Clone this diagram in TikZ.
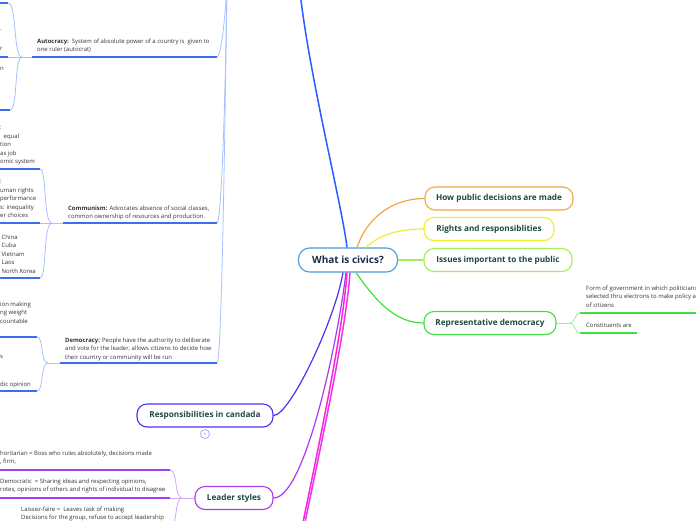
\documentclass[tikz,border=0pt]{standalone}
\usepackage{fontspec}
\setmainfont{Open Sans}
\definecolor{cborder}{HTML}{4F9BDA}
\definecolor{ctext}{HTML}{1B2B4D}
\definecolor{ttext}{HTML}{1D4A3E}
\definecolor{stext}{HTML}{333333}
\definecolor{bluetop}{HTML}{2B5CFF}
\definecolor{trunk}{HTML}{A8C0FF}
\definecolor{uline}{HTML}{3D6EF2}
\definecolor{corange}{HTML}{F7A541}
\definecolor{cyellow}{HTML}{EEEE33}
\definecolor{clgreen}{HTML}{A5EE55}
\definecolor{cgreen}{HTML}{3FE03F}
\definecolor{cglight}{HTML}{9BEE9B}
\definecolor{cresp}{HTML}{5230F0}
\definecolor{crespc}{HTML}{A090FF}
\definecolor{cleader}{HTML}{A63CF2}
\definecolor{cleaderl}{HTML}{D3A6FF}
\definecolor{cmag}{HTML}{FF22DD}
\definecolor{cpink}{HTML}{EE33EE}
\tikzset{
  topic/.style={draw, rounded corners=10pt, line width=1.1pt, fill=white, text=ttext,
    font=\fontsize{8.2}{10}\selectfont\bfseries, inner sep=0pt, minimum height=23pt},
  small/.style={text=stext, font=\fontsize{5.95}{8.5}\selectfont, inner sep=0pt, align=left, anchor=north west},
  uln/.style={line width=1.6pt, uline},
  trk/.style={line width=0.8pt, trunk},
  conn/.style={line width=1.2pt},
}
\begin{document}
\begin{tikzpicture}[x=1pt,y=-1pt]
\useasboundingbox (0,0) rectangle (696,520);
\clip (0,0) rectangle (696,520);
\fill[white] (0,0) rectangle (696,520);

% ---------- main nodes ----------
\node[draw=cborder, rounded corners=11pt, line width=1.1pt, fill=white, text=ctext,
  font=\fontsize{10}{12}\selectfont\bfseries, minimum width=99pt, minimum height=24pt, inner sep=0pt]
  (c) at (348,260) {What is civics?};
\node[topic, draw=corange, minimum width=148pt] (how) at (499,198.5) {How public decisions are made};
\node[topic, draw=cyellow, minimum width=130pt] (rights) at (489,229) {Rights and responsiblities};
\node[topic, draw=clgreen, minimum width=148pt] (issues) at (498,260) {Issues important to the public};
\node[topic, draw=cgreen, minimum width=132pt] (rep) at (490,323) {Representative democracy};
\node[topic, draw=cresp, minimum width=136pt] (resp) at (205,415.5) {Responsibilities in candada};
\node[topic, draw=cleader, minimum width=78pt] (leader) at (234,498) {Leader styles};
\node[circle, draw=crespc, line width=0.6pt, minimum size=9pt, inner sep=0pt, text=crespc,
  font=\fontsize{4.5}{4.5}\selectfont] (rc) at (205,434) {6};

% ---------- coordinates ----------
\coordinate (topend) at (300,-8);
\coordinate (pol) at (227,-15);
\coordinate (m1) at (301,532);
\coordinate (m2) at (303,532);
\coordinate (aue) at (217,57);  \coordinate (aus) at (32,57);  \coordinate (aj) at (22,57);
\coordinate (a1e) at (8,3);     \coordinate (a1s) at (-5,3);
\coordinate (a2e) at (8,57);    \coordinate (a2s) at (-5,57);
\coordinate (a3e) at (10,110);  \coordinate (a3s) at (-5,110);
\coordinate (cue) at (217,223); \coordinate (cus) at (63,223); \coordinate (cj) at (52,223);
\coordinate (c1e) at (40,169);  \coordinate (c1s) at (-5,169);
\coordinate (c2e) at (40,223);  \coordinate (c2s) at (-5,223);
\coordinate (c3e) at (40,278);  \coordinate (c3s) at (-5,278);
\coordinate (due) at (217,363); \coordinate (dus) at (60,363); \coordinate (dj) at (48,363);
\coordinate (d1e) at (37,337);  \coordinate (d1s) at (-5,337);
\coordinate (d3e) at (37,391);  \coordinate (d3s) at (-5,391);
\coordinate (lj) at (182,498);
\coordinate (l1e) at (170,470); \coordinate (l1s) at (-5,470);
\coordinate (l2e) at (170,498); \coordinate (l2s) at (-5,498);
\coordinate (l3e) at (170,527); \coordinate (l3s) at (-5,527);
\coordinate (rj) at (570,323);
\coordinate (r1e) at (580,313); \coordinate (r1s) at (705,313);
\coordinate (r2e) at (580,333); \coordinate (r2s) at (637,333);

% ---------- connectors from centre ----------
\draw[conn, corange] ([xshift=9pt]c.north) .. controls (368,215) and (395,198.5) .. (how.west);
\draw[conn, cyellow] ([xshift=18pt]c.north) .. controls (380,234) and (400,229) .. (rights.west);
\draw[line width=2pt, clgreen] (c.east) -- (issues.west);
\draw[conn, cgreen] ([xshift=8pt]c.south) .. controls (375,300) and (395,323) .. (rep.west);
\draw[line width=1.5pt, bluetop] ([xshift=-1pt]c.north) .. controls (342,205) and (310,80) .. (topend);
\draw[conn, cresp] ([xshift=-5pt]c.south) .. controls (335,320) and (290,415.5) .. (resp.east);
\draw[conn, cleader] ([xshift=-2pt]c.south) .. controls (338,340) and (305,498) .. (leader.east);
\draw[line width=1.5pt, cpink] ([xshift=2pt]c.south) .. controls (346,330) and (322,440) .. (m2);
\draw[line width=1.5pt, cmag] ([xshift=-1pt]c.south) .. controls (343,330) and (320,440) .. (m1);

% ---------- left trunk ----------
\draw[trk] (pol) .. controls (225,20) and (221,57) .. (aue);
\draw[trk] (pol) .. controls (225,120) and (221,223) .. (cue);
\draw[trk] (pol) .. controls (224,200) and (221,363) .. (due);
\draw[uln] (aus) -- (aue);
\draw[uln] (cus) -- (cue);
\draw[uln] (dus) -- (due);

% autocracy children
\draw[trk] (aj) -- (aus);
\draw[trk] (aj) .. controls (13,57) and (17,3) .. (a1e);
\draw[trk] (aj) -- (a2e);
\draw[trk] (aj) .. controls (14,57) and (18,110) .. (a3e);
\draw[uln] (a1e) -- (a1s);
\draw[uln] (a2e) -- (a2s);
\draw[uln] (a3e) -- (a3s);
% communism children
\draw[trk] (cj) -- (cus);
\draw[trk] (cj) .. controls (43,223) and (47,169) .. (c1e);
\draw[trk] (cj) -- (c2e);
\draw[trk] (cj) .. controls (43,223) and (47,278) .. (c3e);
\draw[uln] (c1e) -- (c1s);
\draw[uln] (c2e) -- (c2s);
\draw[uln] (c3e) -- (c3s);
% democracy children
\draw[trk] (dj) -- (dus);
\draw[trk] (dj) .. controls (40,363) and (44,337) .. (d1e);
\draw[trk] (dj) .. controls (40,363) and (44,391) .. (d3e);
\draw[uln] (d1e) -- (d1s);
\draw[uln] (d3e) -- (d3s);

% leader children
\draw[line width=0.8pt, cleaderl] (leader.west) -- (lj);
\draw[line width=0.8pt, cleaderl] (lj) .. controls (174,498) and (178,470) .. (l1e);
\draw[line width=0.8pt, cleaderl] (lj) -- (l2e);
\draw[line width=0.8pt, cleaderl] (lj) .. controls (174,498) and (178,527) .. (l3e);
\draw[line width=1.6pt, cleader] (l1e) -- (l1s);
\draw[line width=1.6pt, cleader] (l2e) -- (l2s);
\draw[line width=1.6pt, cleader] (l3e) -- (l3s);

% representative democracy children
\draw[line width=0.8pt, cglight] (rep.east) -- (rj);
\draw[line width=0.8pt, cglight] (rj) .. controls (575,323) and (575,313) .. (r1e);
\draw[line width=0.8pt, cglight] (rj) .. controls (575,323) and (575,333) .. (r2e);
\draw[line width=1.6pt, cgreen] (r1e) -- (r1s);
\draw[line width=1.6pt, cgreen] (r2e) -- (r2s);

% ---------- texts ----------
\node[small] (autt) at (37,38.5) {\textbf{Autocracy:}\ \ System of absolute power of a country is\ \ given to\\one ruler (autocrat)};
\node[small] (commt) at (68,205.5) {\textbf{Communism:} Advocates absence of social classes,\\common ownership of resources and production.};
\node[small] (demt) at (65,337.5) {\textbf{Democracy:} People have the authority to deliberate\\and vote for the leader, allows citizens to decide how\\their country or community will be run};

\node[small] (a2t) at (0,29.5) {.};
\node[small] (a2tb) at (0,47.5) {r};
\node[small] (a3t) at (0,67.5) {n};

\node[small] (c1t) at (0,126.5) {:\\\hspace*{3.5pt}equal\\tion\\as job\\omic system};
\node[small] (c2t) at (0,180.5) {:\\uman rights\\performance\\s: inequality\\er choices};
\node[small] (c3t) at (1.5,234.5) {China\\Cuba\\Vietnam\\Laos\\North Korea};

\node[small] (d1t) at (0,301.5) {ion making\\ng weight\\countable};
\node[small] (d3ta) at (0,355.5) {s};
\node[small] (d3t) at (0,381.5) {dic opinion};

\node[small] (l1t) at (0,450.5) {horitarian = Boss who rules absolutely, decisions made\\, firm,};
\node[small] (l2t) at (0,478.5) {Democratic\ \ = Sharing ideas and respecting opinions,\\rotes, opinions of others and rights of individual to disagree};
\node[small] (l3t) at (21,506.5) {Laissez-faire =\ \ Leaves task of making\\Decisions for the group, refuse to accept leadership};

\node[small] (r1t) at (586,285.5) {Form of government in which politicians\\selected thru electrons to make policy a\\of citizens};
\node[small] (r2t) at (586,322.5) {Constituents are};
\end{tikzpicture}
\end{document}
